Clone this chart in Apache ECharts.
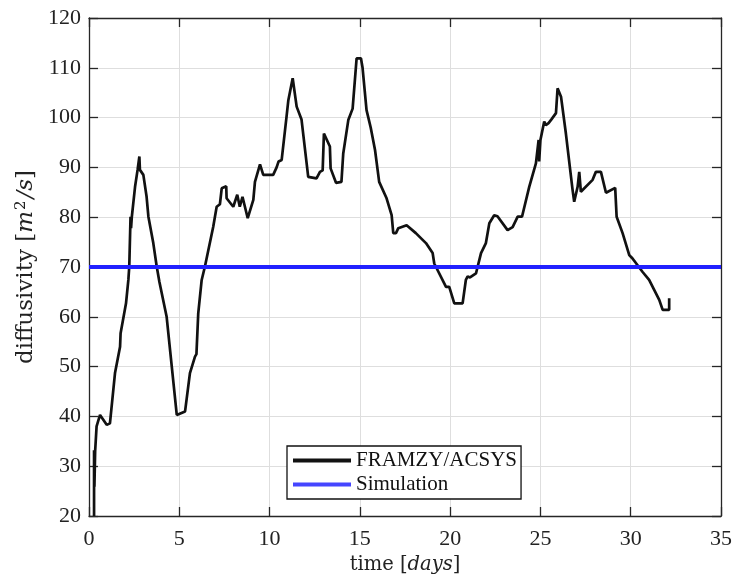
<!DOCTYPE html>
<html>
<head>
<meta charset="utf-8">
<script src="https://cdn.jsdelivr.net/npm/echarts@6/dist/echarts.min.js"></script>
<style>html,body{margin:0;padding:0;background:#fff;}#c{width:732px;height:578px;}</style>
</head>
<body>
<div id="c"></div>
<script>
const days = [0.28,0.28,0.30,0.34,0.42,0.61,0.70,0.98,1.16,1.44,1.72,1.75,2.05,2.18,2.23,2.30,2.33,2.37,2.55,2.69,2.79,2.82,3.01,3.19,3.29,3.56,3.75,3.9,4.3,4.86,5.32,5.59,5.87,5.95,6.05,6.24,6.42,6.88,7.07,7.25,7.35,7.6,7.62,7.99,8.21,8.35,8.5,8.79,9.1,9.19,9.47,9.65,10.2,10.39,10.5,10.67,10.94,11.04,11.28,11.5,11.77,12.14,12.6,12.79,12.94,13.01,13.1,13.34,13.38,13.68,13.98,14.08,14.36,14.6,14.82,15.06,15.15,15.37,15.6,15.84,16.07,16.48,16.76,16.85,17.0,17.13,17.59,18.1,18.66,19.03,19.12,19.77,19.95,20.23,20.69,20.87,20.97,21.1,21.43,21.71,21.98,22.17,22.44,22.62,23.18,23.46,23.74,23.98,24.38,24.75,24.9,24.93,25.0,25.21,25.3,25.45,25.6,25.86,25.95,26.14,26.41,26.78,26.87,27.06,27.15,27.24,27.89,28.07,28.35,28.63,29.14,29.22,29.55,29.92,30.1,30.66,31.02,31.3,31.58,31.77,32.13,32.13];
const diffusivity = [20,33.2,25.9,33,38,40.3,40.0,38.3,38.6,48.7,54,56.7,62.7,67.4,70.1,80.1,77.8,80,86.1,89.5,92.2,89.5,88.5,84.1,80.1,74.8,70.1,67,60,40.3,41,48.7,52,52.5,60.7,67.4,70.1,78.1,82.1,82.6,85.8,86.2,83.8,82.1,84.5,82.1,84.1,79.8,83.5,87.1,90.6,88.5,88.5,90.0,91.2,91.5,100.2,103.5,107.9,102.2,99.6,88.1,87.8,89.1,89.4,96.8,97.1,94.2,89.8,86.9,87.1,92.8,99.5,101.8,111.9,111.9,110,101.5,98,93.5,87.1,83.8,80.4,76.8,76.8,77.8,78.4,76.8,74.8,72.8,70.7,66,66,62.7,62.7,67.4,68.1,67.9,68.7,72.8,74.8,78.8,80.4,80.2,77.4,78,80.1,80.1,86.1,90.8,95.5,91.2,95.5,99.2,98.5,98.9,99.6,100.9,105.9,104.2,96.8,85.5,83.1,86.1,89.1,85.1,87.5,89.1,89.1,84.9,85.9,80.1,76.8,72.4,71.7,69,67.4,65.4,63.4,61.4,61.4,63.7];
const simDays = [0, 35];
const simValue = [70, 70];
const seriesNames = ['FRAMZY/ACSYS', 'Simulation'];

const font = '"Liberation Serif", "Times New Roman", serif';
const mathFont = '"DejaVu Serif", serif';
const axisColor = '#262626';
const obs = days.map((d, i) => [d, diffusivity[i]]);
const sim = simDays.map((d, i) => [d, simValue[i]]);

const chart = echarts.init(document.getElementById('c'), null, {renderer: 'canvas'});
const baseX = {
  type: 'value', min: 0, max: 35, interval: 5,
  axisLine: {show: true, onZero: false, lineStyle: {color: axisColor, width: 1.3}},
  axisTick: {show: true, inside: true, length: 9, lineStyle: {color: axisColor, width: 1.3}},
};
const baseY = {
  type: 'value', min: 20, max: 120, interval: 10,
  axisLine: {show: true, onZero: false, lineStyle: {color: axisColor, width: 1.3}},
  axisTick: {show: true, inside: true, length: 9, lineStyle: {color: axisColor, width: 1.3}},
};
chart.setOption({
  backgroundColor: '#fff',
  animation: false,
  grid: {left: 89, right: 11, top: 18, bottom: 62, containLabel: false, outerBoundsMode: 'none'},
  legend: {
    orient: 'vertical', left: 287, top: 446,
    icon: 'rect',
    data: [
      {name: seriesNames[0], itemStyle: {color: '#111'}},
      {name: seriesNames[1], itemStyle: {color: '#4545ff'}}
    ],
    borderColor: '#111', borderWidth: 1.3, borderRadius: 0,
    padding: [4, 4, 4, 6], itemGap: 3, itemWidth: 58, itemHeight: 4,
    backgroundColor: '#fff',
    textStyle: {fontFamily: font, fontSize: 21, color: '#111'}
  },
  xAxis: [
    Object.assign({}, baseX, {
      position: 'bottom',
      name: 'time [{i|days}]', nameLocation: 'middle', nameGap: 39,
      nameTextStyle: {fontFamily: mathFont, fontSize: 19.5, color: '#222',
        rich: {i: {fontFamily: mathFont, fontStyle: 'italic', fontSize: 19.5, color: '#222'}}},
      axisLabel: {fontFamily: font, fontSize: 22, color: '#222', margin: 12},
      splitLine: {show: true, lineStyle: {color: '#dedede', width: 1}}
    }),
    Object.assign({}, baseX, {
      position: 'top', axisLabel: {show: false}, splitLine: {show: false}
    })
  ],
  yAxis: [
    Object.assign({}, baseY, {
      position: 'left',
      name: 'diffusivity [{i|m}{sup|2}{i|/s}]', nameLocation: 'middle', nameGap: 51,
      nameTextStyle: {fontFamily: mathFont, fontSize: 23, color: '#222',
        rich: {
          i: {fontFamily: mathFont, fontStyle: 'italic', fontSize: 23, color: '#222'},
          sup: {fontFamily: mathFont, fontSize: 15, color: '#222', verticalAlign: 'top', padding: [0, 2, 0, 1]}
        }},
      axisLabel: {fontFamily: font, fontSize: 22, color: '#222', margin: 8},
      splitLine: {show: true, lineStyle: {color: '#dedede', width: 1}}
    }),
    Object.assign({}, baseY, {
      position: 'right', axisLabel: {show: false}, splitLine: {show: false}
    })
  ],
  series: [
    {
      name: seriesNames[0], type: 'line', data: obs, symbol: 'none',
      lineStyle: {color: '#111', width: 2.7}, itemStyle: {color: '#111'},
      xAxisIndex: 0, yAxisIndex: 0, z: 2
    },
    {
      name: seriesNames[1], type: 'line', data: sim, symbol: 'none',
      lineStyle: {color: '#2121ff', width: 4}, itemStyle: {color: '#2121ff'},
      xAxisIndex: 0, yAxisIndex: 0, z: 3
    }
  ]
});
</script>
</body>
</html>
